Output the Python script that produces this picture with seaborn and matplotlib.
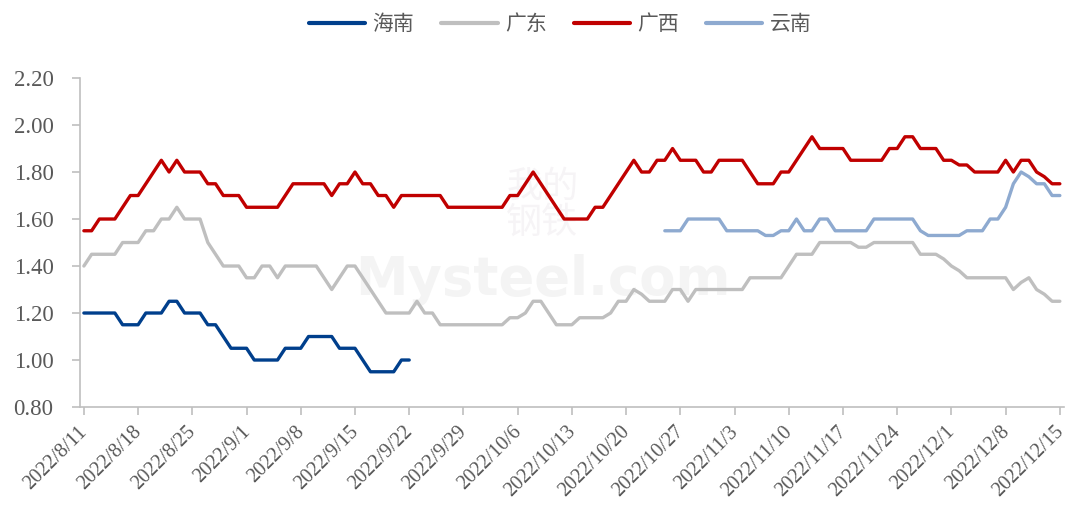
import pandas as pd
import matplotlib.pyplot as plt
import matplotlib.transforms as mtransforms
import seaborn as sns

# Daten: Tageswerte ab 2022/8/11 (Index = Tag)
start_date = "2022-08-11"
n_days = 127

hainan_start = 0
hainan = ([1.20] * 5 + [1.15] * 3 + [1.20] * 3 + [1.25] * 2 + [1.20] * 3 + [1.15] * 2 + [1.10]
          + [1.05] * 3 + [1.00] * 4 + [1.05] * 3 + [1.10] * 4 + [1.05] * 3 + [1.00] + [0.95] * 4
          + [1.00] * 2)

guangdong_start = 0
guangdong = ([1.40] + [1.45] * 4 + [1.50] * 3 + [1.55] * 2 + [1.60] * 2 + [1.65] + [1.60] * 3
             + [1.50] + [1.45] + [1.40] * 3 + [1.35] * 2 + [1.40] * 2 + [1.35] + [1.40] * 5
             + [1.35] + [1.30] + [1.35] + [1.40] * 2 + [1.35] + [1.30] + [1.25] + [1.20] * 4
             + [1.25] + [1.20] * 2 + [1.15] * 9 + [1.18] * 2 + [1.20] + [1.25] * 2 + [1.20]
             + [1.15] * 3 + [1.18] * 4 + [1.20] + [1.25] * 2 + [1.30] + [1.28] + [1.25] * 3
             + [1.30] * 2 + [1.25] + [1.30] * 7 + [1.35] * 5 + [1.40] + [1.45] * 3 + [1.50] * 5
             + [1.48] * 2 + [1.50] * 6 + [1.45] * 3 + [1.43] + [1.40] + [1.38] + [1.35] * 6
             + [1.30] + [1.33] + [1.35] + [1.30] + [1.28] + [1.25] * 2)

guangxi_start = 0
guangxi = ([1.55] * 2 + [1.60] * 3 + [1.65] + [1.70] * 2 + [1.75] + [1.80] + [1.85] + [1.80]
           + [1.85] + [1.80] * 3 + [1.75] * 2 + [1.70] * 3 + [1.65] * 5 + [1.70] + [1.75] * 5
           + [1.70] + [1.75] * 2 + [1.80] + [1.75] * 2 + [1.70] * 2 + [1.65] + [1.70] * 6
           + [1.65] * 8 + [1.70] * 2 + [1.75] + [1.80] + [1.75] + [1.70] + [1.65] + [1.60] * 4
           + [1.65] * 2 + [1.70] + [1.75] + [1.80] + [1.85] + [1.80] * 2 + [1.85] * 2 + [1.90]
           + [1.85] * 3 + [1.80] * 2 + [1.85] * 4 + [1.80] + [1.75] * 3 + [1.80] * 2 + [1.85]
           + [1.90] + [1.95] + [1.90] * 4 + [1.85] * 5 + [1.90] * 2 + [1.95] * 2 + [1.90] * 3
           + [1.85] * 2 + [1.83] * 2 + [1.80] * 4 + [1.85] + [1.80] + [1.85] * 2 + [1.80]
           + [1.78] + [1.75] * 2)

yunnan_start = 75
yunnan = ([1.55] * 3 + [1.60] * 5 + [1.55] * 5 + [1.53] * 2 + [1.55] * 2 + [1.60] + [1.55] * 2
          + [1.60] * 2 + [1.55] * 5 + [1.60] * 6 + [1.55] + [1.53] * 5 + [1.55] * 3 + [1.60] * 2
          + [1.65] + [1.75] + [1.80] + [1.78] + [1.75] * 2 + [1.70] * 2)

series = [("海南", hainan_start, hainan, "#003f8c"),
          ("广东", guangdong_start, guangdong, "#bfbfbf"),
          ("广西", guangxi_start, guangxi, "#c00000"),
          ("云南", yunnan_start, yunnan, "#8eaad0")]

dates = pd.date_range(start_date, periods=n_days, freq="D")
tick_days = list(range(0, n_days, 7))
tick_labels = [f"{d.year}/{d.month}/{d.day}" for d in dates[tick_days]]
y_ticks = [0.80, 1.00, 1.20, 1.40, 1.60, 1.80, 2.00, 2.20]

sns.set_style("white")
plt.rcParams["font.family"] = ["Liberation Serif", "Noto Sans CJK SC", "DejaVu Sans"]

fig = plt.figure(figsize=(10.71, 5.13), dpi=100)
ax = fig.add_axes([0.0747, 0.2066, 0.9185, 0.6413])

# Wasserzeichen (sehr hell)
ax.text(0.47, 0.615, "我的\n钢铁", transform=ax.transAxes, ha="center", va="center",
        fontsize=26, color="#f6f4f6", family=["Noto Sans CJK SC"], linespacing=1.0, zorder=0)
ax.text(0.47, 0.385, "Mysteel.com", transform=ax.transAxes, ha="center", va="center",
        fontsize=38, color="#f4f4f4", family=["DejaVu Sans"], fontweight="bold", zorder=0)

for name, start, values, color in series:
    df = pd.DataFrame({"day": range(start, start + len(values)), "price": values})
    sns.lineplot(data=df, x="day", y="price", color=color, linewidth=2.4, label=name, ax=ax)

ax.set_xlim(-0.5, n_days - 0.5)
ax.set_ylim(0.80, 2.20)
ax.set_xticks(tick_days)
ax.set_xticklabels(tick_labels, rotation=45, ha="right", va="top", rotation_mode="anchor")
ax.set_yticks(y_ticks)
ax.set_yticklabels([f"{v:.2f}" for v in y_ticks])
ax.set_xlabel("")
ax.set_ylabel("")

for side in ["top", "right"]:
    ax.spines[side].set_visible(False)
for side in ["left", "bottom"]:
    ax.spines[side].set_color("#bfbfbf")
    ax.spines[side].set_linewidth(1.2)

ax.tick_params(axis="y", length=6, width=1.2, color="#bfbfbf", labelcolor="#595959",
               labelsize=16.5, pad=13, left=True)
ax.tick_params(axis="x", length=6, width=1.2, color="#bfbfbf", labelcolor="#595959",
               labelsize=14.5, pad=5, bottom=True)

leg = ax.legend(loc="center", bbox_to_anchor=(0.523, 0.953), bbox_transform=fig.transFigure,
                ncol=4, frameon=False, handlelength=2.7, handletextpad=0.35,
                columnspacing=1.3, prop={"family": ["Noto Sans CJK SC"], "size": 15})
for t in leg.get_texts():
    t.set_color("#595959")
for h in leg.get_lines():
    h.set_linewidth(3)

# letzte Datumsbeschriftung ein paar Pixel nach links, damit sie nicht am Rand klebt
fig.canvas.draw()
shift = mtransforms.ScaledTranslation(-6 / 100, 0, fig.dpi_scale_trans)
for tick in ax.xaxis.get_major_ticks():
    tick.label1.set_transform(tick.label1.get_transform() + shift)

fig.savefig("out.png", dpi=100)
